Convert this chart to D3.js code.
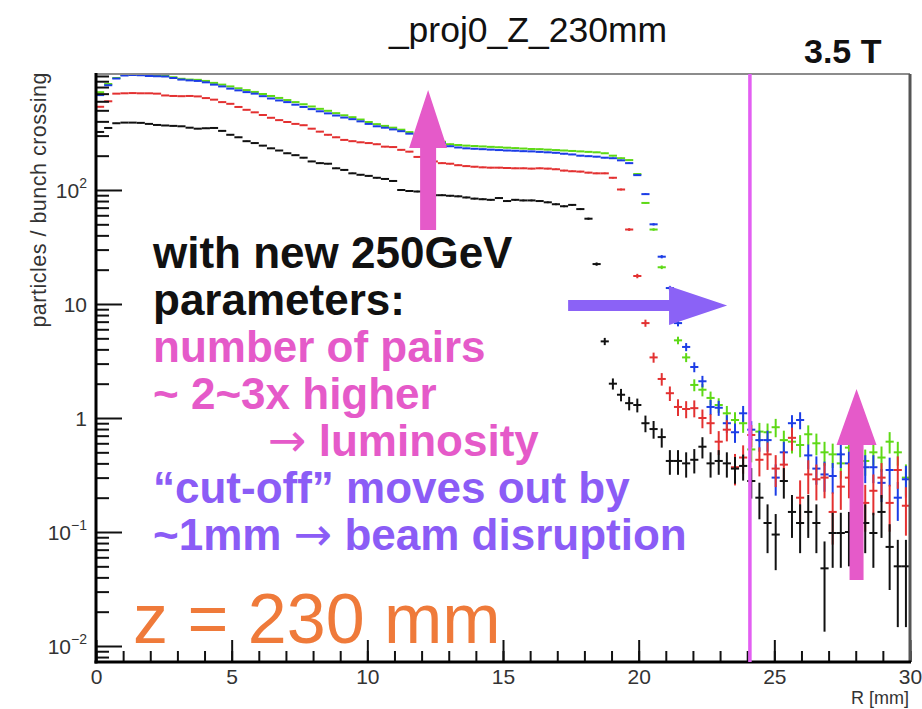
<!DOCTYPE html>
<html>
<head>
<meta charset="utf-8">
<title>_proj0_Z_230mm</title>
<script src="https://cdn.jsdelivr.net/npm/d3@7/dist/d3.min.js"></script>
<style>
  html, body { margin: 0; padding: 0; background: #fff; }
  svg { display: block; font-family: "Liberation Sans", Arial, Helvetica, sans-serif; }
</style>
</head>
<body>
<svg id="chart" width="922" height="709"></svg>
<script>
// Radial distribution of pair-background particles per bunch crossing at z = 230 mm, 3.5 T.
// Histogram: 100 bins of 0.3 mm in R.
const binWidth = 0.3;
const binCenters = d3.range(100).map(i => (i + 0.5) * binWidth);

const blackValues = [
  323, 350, 385, 390, 390, 388, 380, 372, 368, 365,
  362, 352, 345, 348, 350, 330, 305, 290, 268, 258,
  245, 232, 222, 210, 202, 192, 178, 172, 170, 155,
  150, 140, 136, 133, 128, 125, 120, 100, 98, 97,
  92, 90, 90, 89, 88, 86, 84, 83, 82, 85,
  80, 82, 81, 81, 80, 78, 75, 72, 74, 68,
  56, 22.4, 4.7, 2.0, 1.6, 1.35, 1.3, 0.9, 0.8, 0.68,
  0.42, 0.42, 0.40, 0.43, 0.56, 0.40, 0.42, 0.40, 0.36, 0.38,
  0.28, 0.2, 0.12, 0.095, 0.28, 0.15, 0.12, 0.15, 0.12, 0.048,
  0.098, 0.098, 0.1, 0.12, 0.12, 0.098, 0.15, 0.074, 0.05, 0.05
];

const redValues = [
  537, 600, 700, 705, 708, 705, 705, 700, 675, 668,
  665, 668, 662, 640, 620, 590, 570, 535, 505, 480,
  455, 430, 410, 395, 380, 370, 345, 325, 305, 290,
  275, 268, 262, 258, 252, 240, 238, 225, 217, 195,
  190, 178, 172, 170, 165, 162, 160, 158, 157, 157,
  156, 155, 155, 154, 155, 154, 152, 148, 146, 145,
  142, 140, 140, 128, 101, 45, 17.6, 6.8, 3.4, 2.2,
  1.65, 1.25, 1.2, 1.22, 1.0, 0.9, 0.62, 0.79, 0.37, 0.45,
  0.71, 0.43, 0.48, 0.36, 0.39, 0.67, 0.2, 0.32, 0.29, 0.3,
  0.15, 0.25, 0.3, 0.22, 0.18, 0.23, 0.3, 0.18, 0.35, 0.17
];

const blueValues = [
  680, 830, 950, 1010, 1020, 1015, 1000, 995, 990, 960,
  930, 915, 905, 880, 840, 810, 775, 748, 722, 700,
  665, 635, 610, 590, 560, 535, 512, 490, 470, 450,
  432, 418, 400, 380, 362, 352, 340, 328, 312, 296,
  282, 270, 258, 242, 236, 232, 230, 228, 226, 224,
  222, 221, 219, 218, 216, 214, 212, 208, 205, 200,
  198, 196, 192, 190, 182, 172, 135, 92, 50, 26,
  13.8, 6.8, 4.2, 2.8, 2.1, 1.25, 1.23, 0.9, 0.75, 1.1,
  0.79, 0.64, 0.64, 0.30, 0.5, 0.9, 0.96, 0.47, 0.36, 0.32,
  0.31, 0.48, 0.4, 0.45, 0.37, 0.37, 0.27, 0.35, 0.2, 0.29
];

const greenValues = [
  720, 850, 960, 1020, 1030, 1025, 1015, 1005, 1000, 975,
  945, 930, 925, 905, 870, 840, 810, 780, 752, 725,
  695, 668, 642, 615, 590, 565, 540, 515, 495, 472,
  452, 435, 415, 395, 378, 365, 352, 338, 322, 306,
  292, 278, 265, 252, 248, 245, 243, 241, 239, 237,
  235, 233, 231, 229, 228, 226, 224, 222, 220, 218,
  216, 214, 210, 200, 190, 183, 138, 77, 45, 21,
  10, 4.8, 3.4, 1.95, 1.77, 1.5, 1.3, 1.1, 0.96, 0.9,
  0.53, 0.76, 0.75, 0.83, 0.64, 0.62, 0.58, 0.72, 0.6, 0.5,
  0.48, 0.4, 0.55, 0.5, 0.42, 0.5, 0.45, 0.62, 0.5, 0.3
];

// Axis ticks and labels
const xTickValues = [0, 5, 10, 15, 20, 25, 30];
const xMinorTicks = d3.range(0, 31, 1);
const yTickValues = [0.01, 0.1, 1, 10, 100];
const yTickLabels = [["10", "\u22122"], ["10", "\u22121"], ["1", ""], ["10", ""], ["10", "2"]];

// Annotation geometry in data units (R in mm, y in particles / BX)
const cutoffR = 24.1;
const upArrowLeft  = { r: 12.24, base: 44.6, head: 233, tip: 753 };
const upArrowRight = { r: 28.03, base: 0.038, head: 0.58, tip: 1.8 };
const rightArrow   = { level: 9.7, start: 17.4, head: 21.12, tip: 23.26 };

const svg = d3.select("#chart");
const frame = { left: 96, right: 910, top: 74, bottom: 662 };

const x = d3.scaleLinear().domain([0, 30]).range([frame.left, frame.right]);
const y = d3.scaleLog().domain([0.00724, 1041]).range([frame.bottom, frame.top]);

svg.append("defs").append("clipPath").attr("id", "plotClip")
  .append("rect").attr("x", frame.left).attr("y", frame.top)
  .attr("width", frame.right - frame.left).attr("height", frame.bottom - frame.top);

// ---- data: error-bar crosses per bin ----
const series = [
  { values: greenValues, color: "#5ed916", weight: 0.028 },
  { values: blueValues,  color: "#1c3de6", weight: 0.028 },
  { values: redValues,   color: "#e33131", weight: 0.035 },
  { values: blackValues, color: "#111111", weight: 0.025 }
];

const plot = svg.append("g").attr("clip-path", "url(#plotClip)");
series.forEach(s => {
  const pts = s.values.map((v, i) => ({ r: binCenters[i], v, e: Math.sqrt(v * s.weight) }));
  const g = plot.append("g").attr("stroke", s.color).attr("stroke-width", 2);
  g.selectAll("line.h").data(pts).join("line").attr("class", "h")
    .attr("x1", d => x(d.r - binWidth / 2)).attr("x2", d => x(d.r + binWidth / 2))
    .attr("y1", d => y(d.v)).attr("y2", d => y(d.v));
  g.selectAll("line.v").data(pts).join("line").attr("class", "v")
    .attr("x1", d => x(d.r)).attr("x2", d => x(d.r))
    .attr("y1", d => y(d.v + d.e))
    .attr("y2", d => d.v - d.e > y.domain()[0] ? y(d.v - d.e) : frame.bottom + 4);
});

// ---- axes ----
const yMinor = [];
for (let p = -3; p <= 2; p++) for (let m = 2; m <= 9; m++) yMinor.push(m * Math.pow(10, p));
yMinor.push(1000);

svg.append("g").attr("transform", `translate(${frame.left},0)`)
  .call(d3.axisLeft(y).tickValues(yMinor.filter(v => v >= y.domain()[0] && v <= y.domain()[1]))
    .tickSize(-13).tickSizeOuter(0).tickFormat(""))
  .call(g => g.select(".domain").remove())
  .call(g => g.selectAll("line").attr("stroke", "#111").attr("stroke-width", 2));

const yAxis = svg.append("g").attr("transform", `translate(${frame.left},0)`)
  .call(d3.axisLeft(y).tickValues(yTickValues).tickSize(-26).tickSizeOuter(0).tickPadding(9).tickFormat(""))
  .call(g => g.select(".domain").remove())
  .call(g => g.selectAll("line").attr("stroke", "#111").attr("stroke-width", 2));
yAxis.selectAll(".tick text").each(function (d, i) {
  const t = d3.select(this).attr("font-size", 21).attr("fill", "#333")
    .attr("font-family", "'Liberation Sans', Arial, sans-serif").attr("dy", "0.36em");
  const [base, sup] = yTickLabels[i];
  t.append("tspan").text(base);
  if (sup) t.append("tspan").attr("font-size", 14).attr("dy", "-0.75em").text(sup);
});

svg.append("g").attr("transform", `translate(0,${frame.bottom})`)
  .call(d3.axisBottom(x).tickValues(xMinorTicks).tickSize(-11).tickSizeOuter(0).tickFormat(""))
  .call(g => g.select(".domain").remove())
  .call(g => g.selectAll("line").attr("stroke", "#111").attr("stroke-width", 2));

svg.append("g").attr("transform", `translate(0,${frame.bottom})`)
  .call(d3.axisBottom(x).tickValues(xTickValues).tickSize(-22).tickSizeOuter(0).tickPadding(8).tickFormat(d3.format("d")))
  .call(g => g.select(".domain").remove())
  .call(g => g.selectAll("line").attr("stroke", "#111").attr("stroke-width", 2))
  .call(g => g.selectAll("text").attr("font-size", 21).attr("fill", "#333")
    .attr("font-family", "'Liberation Sans', Arial, sans-serif").attr("y", 22).attr("dy", "0"));

// frame
svg.append("line").attr("x1", frame.left).attr("x2", frame.right).attr("y1", frame.top).attr("y2", frame.top)
  .attr("stroke", "#8c8c8c").attr("stroke-width", 2);
svg.append("line").attr("x1", frame.right).attr("x2", frame.right).attr("y1", frame.top).attr("y2", frame.bottom)
  .attr("stroke", "#555").attr("stroke-width", 3);
svg.append("line").attr("x1", frame.left).attr("x2", frame.left).attr("y1", frame.top - 1).attr("y2", frame.bottom + 1.5)
  .attr("stroke", "#000").attr("stroke-width", 3);
svg.append("line").attr("x1", frame.left - 1.5).attr("x2", frame.right + 1).attr("y1", frame.bottom).attr("y2", frame.bottom)
  .attr("stroke", "#000").attr("stroke-width", 3);

// axis titles
svg.append("text").attr("x", frame.right - 1).attr("y", 704).attr("text-anchor", "end")
  .attr("font-size", 18).attr("fill", "#333").text("R [mm]");
svg.append("text").attr("transform", `translate(46,${frame.top - 2}) rotate(-90)`)
  .attr("text-anchor", "end").attr("font-size", 21.5).attr("letter-spacing", 0.5).attr("fill", "#333")
  .text("particles / bunch crossing");

// title and field label
svg.append("text").attr("x", 528).attr("y", 42).attr("text-anchor", "middle")
  .attr("font-size", 35.5).attr("fill", "#111").text("_proj0_Z_230mm");
svg.append("text").attr("x", 804).attr("y", 63).attr("font-size", 34).attr("font-weight", "bold")
  .attr("fill", "#111").text("3.5 T");

// ---- annotations ----
svg.append("line").attr("x1", x(cutoffR)).attr("x2", x(cutoffR)).attr("y1", frame.top).attr("y2", frame.bottom)
  .attr("stroke", "#e35ff2").attr("stroke-width", 3.5);

function upArrow(a, shaftHalf, headHalf, color) {
  const cx = x(a.r);
  const pts = [
    [cx - shaftHalf, y(a.base)], [cx - shaftHalf, y(a.head)], [cx - headHalf, y(a.head)],
    [cx, y(a.tip)], [cx + headHalf, y(a.head)], [cx + shaftHalf, y(a.head)], [cx + shaftHalf, y(a.base)]
  ];
  svg.append("polygon").attr("points", pts.map(p => p.join(",")).join(" ")).attr("fill", color);
}
upArrow(upArrowLeft, 8, 19, "#e55ac9");
upArrow(upArrowRight, 7, 20, "#e55ac9");

{
  const cy = y(rightArrow.level);
  const pts = [
    [x(rightArrow.start), cy - 5.5], [x(rightArrow.head), cy - 5.5], [x(rightArrow.head), cy - 19.5],
    [x(rightArrow.tip), cy], [x(rightArrow.head), cy + 19.5], [x(rightArrow.head), cy + 5.5],
    [x(rightArrow.start), cy + 5.5]
  ];
  svg.append("polygon").attr("points", pts.map(p => p.join(",")).join(" ")).attr("fill", "#8b62f6");
}

// Text block; "→" segments use a face with a long, thin arrow glyph.
const noteLines = [
  { parts: ["with new 250GeV"], color: "#111111", indent: 0 },
  { parts: ["parameters:"], color: "#111111", indent: 0 },
  { parts: ["number of pairs"], color: "#e55ac9", indent: 0 },
  { parts: ["~ 2~3x higher"], color: "#e55ac9", indent: 0 },
  { parts: ["\u2192", " luminosity"], color: "#e55ac9", indent: 115 },
  { parts: ["\u201Ccut-off\u201D moves out by"], color: "#8b5cf6", indent: 0 },
  { parts: ["~1mm ", "\u2192", " beam disruption"], color: "#8b5cf6", indent: 0 }
];
const notes = svg.append("g").selectAll("text").data(noteLines).join("text")
  .attr("x", d => 153 + d.indent).attr("y", (d, i) => 268 + i * 47)
  .attr("font-size", 44).attr("font-weight", "bold").attr("fill", d => d.color)
  .attr("xml:space", "preserve");
notes.selectAll("tspan").data(d => d.parts).join("tspan")
  .text(p => p)
  .each(function (p) {
    if (p === "\u2192") {
      d3.select(this).attr("font-family", "'DejaVu Sans', sans-serif")
        .attr("font-weight", "normal").attr("font-size", 46);
    }
  });

svg.append("text").attr("x", 133).attr("y", 643).attr("font-size", 70)
  .attr("fill", "#ef7a3a").text("z = 230 mm");
</script>
</body>
</html>
